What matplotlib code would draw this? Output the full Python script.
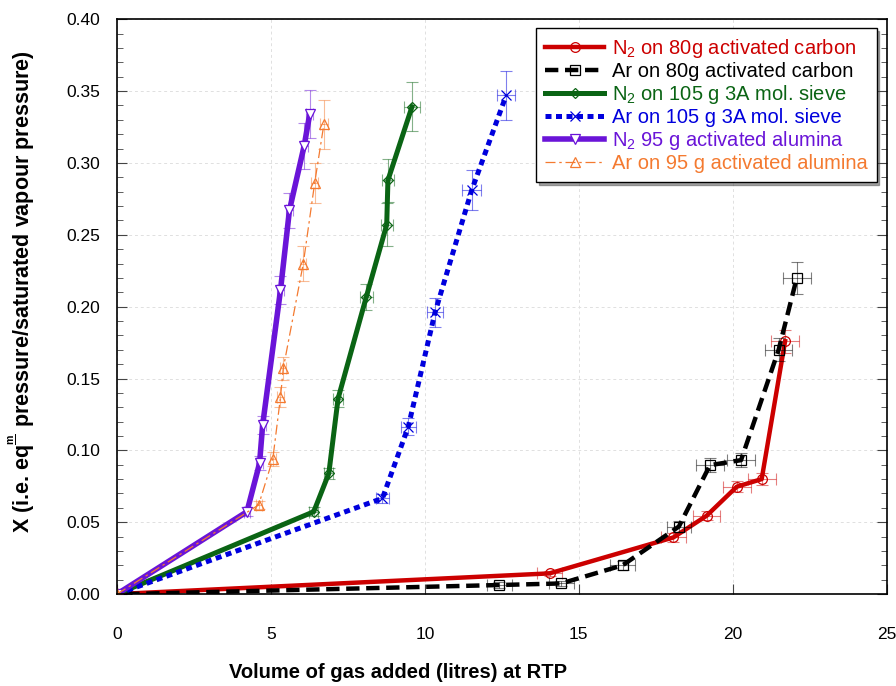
import matplotlib
matplotlib.use("Agg")
import matplotlib.pyplot as plt
from matplotlib.ticker import MultipleLocator

plt.rcParams['font.family'] = ['Liberation Sans', 'DejaVu Sans']
plt.rcParams['mathtext.fontset'] = 'custom'
plt.rcParams['mathtext.rm'] = 'Liberation Sans'
plt.rcParams['mathtext.bf'] = 'Liberation Sans:bold'

# N2 on 80g activated carbon
n2_carbon_x = [0, 14.05, 18.07, 19.15, 20.13, 20.94, 21.7]
n2_carbon_y = [0, 0.0144, 0.0394, 0.0545, 0.0747, 0.080, 0.176]
n2_carbon_xerr = [0, 0.4, 0.4, 0.45, 0.45, 0.45, 0.45]
n2_carbon_yerr = [0, 0.002, 0.003, 0.003, 0.004, 0.004, 0.008]

# Ar on 80g activated carbon
ar_carbon_x = [0.3, 12.42, 14.43, 16.42, 18.25, 19.26, 20.27, 21.49, 22.08]
ar_carbon_y = [0, 0.0063, 0.0074, 0.020, 0.047, 0.0897, 0.0932, 0.170, 0.220]
ar_carbon_xerr = [0, 0.4, 0.4, 0.4, 0.4, 0.45, 0.45, 0.45, 0.45]
ar_carbon_yerr = [0, 0.002, 0.002, 0.003, 0.004, 0.005, 0.005, 0.008, 0.011]

# N2 on 105 g 3A mol. sieve
n2_sieve_x = [0, 6.39, 6.88, 7.18, 8.10, 8.76, 8.80, 9.58]
n2_sieve_y = [0, 0.0573, 0.084, 0.136, 0.207, 0.257, 0.288, 0.339]
n2_sieve_xerr = [0, 0.15, 0.15, 0.15, 0.2, 0.2, 0.2, 0.25]
n2_sieve_yerr = [0, 0.003, 0.004, 0.006, 0.009, 0.015, 0.015, 0.017]

# Ar on 105 g 3A mol. sieve
ar_sieve_x = [0, 8.62, 9.46, 10.33, 11.52, 12.64]
ar_sieve_y = [0, 0.0666, 0.1164, 0.196, 0.281, 0.347]
ar_sieve_xerr = [0, 0.2, 0.25, 0.25, 0.3, 0.3]
ar_sieve_yerr = [0, 0.003, 0.006, 0.010, 0.014, 0.017]

# N2 95 g activated alumina
n2_alum_x = [0, 4.22, 4.63, 4.73, 5.31, 5.60, 6.08, 6.26]
n2_alum_y = [0, 0.0573, 0.091, 0.1176, 0.2115, 0.267, 0.312, 0.334]
n2_alum_xerr = [0, 0.1, 0.1, 0.1, 0.1, 0.1, 0.12, 0.12]
n2_alum_yerr = [0, 0.003, 0.005, 0.006, 0.010, 0.012, 0.016, 0.017]

# Ar on 95 g activated alumina
ar_alum_x = [0, 4.6, 5.06, 5.31, 5.40, 6.05, 6.42, 6.72]
ar_alum_y = [0, 0.062, 0.094, 0.137, 0.157, 0.230, 0.286, 0.327]
ar_alum_xerr = [0, 0.1, 0.1, 0.1, 0.1, 0.1, 0.12, 0.12]
ar_alum_yerr = [0, 0.003, 0.005, 0.007, 0.008, 0.012, 0.014, 0.017]

series = [
    (n2_carbon_x, n2_carbon_y, n2_carbon_xerr, n2_carbon_yerr,
     "N$_2$ on 80g activated carbon", "#cc0000", "-", 3.2, "o", "none", 7),
    (ar_carbon_x, ar_carbon_y, ar_carbon_xerr, ar_carbon_yerr,
     "Ar on 80g activated carbon", "#000000", (0, (3, 1.5)), 3.2, "s", "none", 7),
    (n2_sieve_x, n2_sieve_y, n2_sieve_xerr, n2_sieve_yerr,
     "N$_2$ on 105 g 3A mol. sieve", "#0a6414", "-", 3.6, "D", "none", 5.5),
    (ar_sieve_x, ar_sieve_y, ar_sieve_xerr, ar_sieve_yerr,
     "Ar on 105 g 3A mol. sieve", "#0000dd", (0, (1.2, 0.9)), 3.6, "x", "none", 7),
    (n2_alum_x, n2_alum_y, n2_alum_xerr, n2_alum_yerr,
     "N$_2$ 95 g activated alumina", "#6a14d8", "-", 4.0, "v", "white", 7.5),
    (ar_alum_x, ar_alum_y, ar_alum_xerr, ar_alum_yerr,
     "Ar on 95 g activated alumina", "#f47a30", (0, (8, 3, 2, 3)), 0.9, "^", "none", 7),
]

fig = plt.figure(figsize=(8.96, 6.86), dpi=100)
ax = fig.add_axes([0.1306, 0.134, 0.859, 0.838])

for x, y, xe, ye, lab, col, ls, lw, mk, mfc, ms in series:
    ax.errorbar(x, y, xerr=xe, yerr=ye, fmt="none", ecolor=col, elinewidth=0.8,
                capsize=4, capthick=0.8, alpha=0.5)
    ax.plot(x, y, color=col, linestyle=ls, linewidth=lw, marker=mk, markersize=ms,
            markerfacecolor=mfc, markeredgecolor=col, markeredgewidth=0.9, label=lab)

ax.set_xlim(0, 25)
ax.set_ylim(0, 0.40)
ax.xaxis.set_major_locator(MultipleLocator(5))
ax.yaxis.set_major_locator(MultipleLocator(0.05))
ax.yaxis.set_minor_locator(MultipleLocator(0.01))
ax.yaxis.set_major_formatter(matplotlib.ticker.FormatStrFormatter("%.2f"))
ax.grid(True, which="major", color="#e0e0e0", linestyle=(0, (3, 3)), linewidth=0.7)
ax.tick_params(axis="both", which="both", direction="in", right=True, top=False,
               labelsize=12.5, colors="#444444", labelcolor="black")
ax.tick_params(axis="y", which="major", length=7, pad=12)
ax.tick_params(axis="y", which="minor", length=4)
ax.tick_params(axis="x", which="major", length=7, pad=24)
for s in ax.spines.values():
    s.set_linewidth(1.2)

fig.text(0.0246, 0.574,
         r"X (i.e. eq$^{\frac{\mathbf{m}}{\ }}$ pressure/saturated vapour pressure)",
         fontsize=15.5, fontweight="bold", rotation=90, ha="center", va="center")
fig.text(0.444, 0.0204, "Volume of gas added (litres) at RTP", fontsize=14.5,
         fontweight="bold", ha="center", va="center")

leg = ax.legend(loc="upper right", fontsize=14.5, frameon=True, fancybox=False,
                shadow=True, handlelength=2.9, borderpad=0.45, labelspacing=0.1,
                handletextpad=0.4, borderaxespad=0.0, bbox_to_anchor=(0.987, 0.985))
leg.get_frame().set_edgecolor("black")
leg.get_frame().set_linewidth(1.0)
for txt, s in zip(leg.get_texts(), series):
    txt.set_color(s[5])

fig.savefig("out.png", dpi=100)
